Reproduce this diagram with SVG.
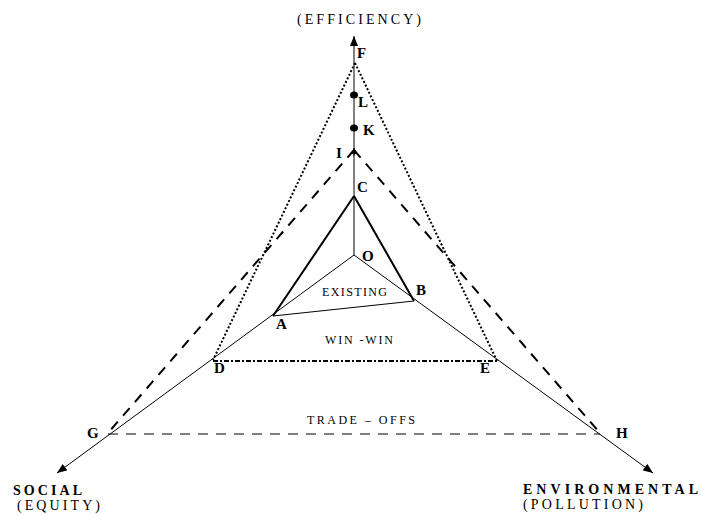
<svg xmlns="http://www.w3.org/2000/svg" width="701" height="515" viewBox="0 0 701 515">
<style>
text{font-family:"Liberation Serif","Times New Roman",serif;fill:#000}
.lbl{font-size:15px;font-weight:bold}
.ax{font-size:14px}
.axb{font-size:14px;font-weight:bold}
.reg{font-size:12px}
.axis{stroke:#000;stroke-width:1;fill:none}
.thick{stroke:#000;stroke-width:2;fill:none}
.dash{stroke:#000;stroke-width:2;fill:none;stroke-dasharray:10 8}
.dashthin{stroke:#000;stroke-width:1;fill:none;stroke-dasharray:10 8}
.dot{stroke:#000;stroke-width:2;fill:none;stroke-dasharray:2 2}
.dashdot{stroke:#000;stroke-width:2;fill:none;stroke-dasharray:5 2 2 2}
</style>
<defs>
<marker id="arr" viewBox="0 0 10 8" refX="10" refY="4" markerWidth="10" markerHeight="8" markerUnits="userSpaceOnUse" orient="auto">
<path d="M0,0 L10,4 L0,8 Z" fill="#000"/>
</marker>
<marker id="arrs" viewBox="0 0 6 6" refX="6" refY="3" markerWidth="6" markerHeight="6" markerUnits="userSpaceOnUse" orient="auto">
<path d="M0,0 L6,3 L0,6 Z" fill="#000"/>
</marker>
</defs>
<g id="connectors">
<line class="axis" x1="354" y1="255" x2="354" y2="36" marker-end="url(#arr)"/>
<line class="axis" x1="354" y1="255" x2="57" y2="473" marker-end="url(#arr)"/>
<line class="axis" x1="354" y1="255" x2="653" y2="473" marker-end="url(#arr)"/>
<line class="axis" x1="354" y1="156" x2="354" y2="148" marker-end="url(#arrs)"/>
<line class="thick" x1="354" y1="196" x2="273" y2="316"/>
<line class="thick" x1="354" y1="196" x2="414" y2="301"/>
<line class="axis" x1="273" y1="316" x2="414" y2="301" stroke-width="1.5"/>
<line class="dot" x1="355" y1="63" x2="213" y2="360"/>
<line class="dot" x1="355" y1="63" x2="497" y2="361"/>
<line class="dashdot" x1="213" y1="361" x2="497" y2="361"/>
<line class="dash" x1="354" y1="150" x2="108" y2="433"/>
<line class="dash" x1="354" y1="150" x2="600" y2="433"/>
<line class="dashthin" x1="108" y1="434" x2="600" y2="434"/>
</g>
<g id="axis-efficiency"><text class="ax" x="297" y="24" textLength="124" lengthAdjust="spacing">(EFFICIENCY)</text></g>
<g id="axis-social">
<text class="axb" x="13" y="495" textLength="69" lengthAdjust="spacing">SOCIAL</text>
<text class="ax" x="17" y="510" textLength="83" lengthAdjust="spacing">(EQUITY)</text>
</g>
<g id="axis-environmental">
<text class="axb" x="523" y="494" textLength="175" lengthAdjust="spacing">ENVIRONMENTAL</text>
<text class="ax" x="523" y="509" textLength="120" lengthAdjust="spacing">(POLLUTION)</text>
</g>
<g id="node-F"><text class="lbl" x="357" y="58">F</text></g>
<g id="node-L"><ellipse cx="354" cy="95" rx="4" ry="3.5" fill="#000"/><text class="lbl" x="358" y="107">L</text></g>
<g id="node-K"><ellipse cx="354" cy="128" rx="4" ry="3.5" fill="#000"/><text class="lbl" x="363" y="135">K</text></g>
<g id="node-I"><text class="lbl" x="336" y="158">I</text></g>
<g id="node-C"><text class="lbl" x="357" y="192">C</text></g>
<g id="node-O"><text class="lbl" x="362" y="261">O</text></g>
<g id="node-A"><text class="lbl" x="276" y="329">A</text></g>
<g id="node-B"><text class="lbl" x="416" y="295">B</text></g>
<g id="node-D"><text class="lbl" x="214" y="373">D</text></g>
<g id="node-E"><text class="lbl" x="480" y="373">E</text></g>
<g id="node-G"><text class="lbl" x="87" y="438">G</text></g>
<g id="node-H"><text class="lbl" x="616" y="438">H</text></g>
<g id="region-existing"><text class="reg" x="322" y="296" textLength="65" lengthAdjust="spacing">EXISTING</text></g>
<g id="region-winwin"><text class="reg" x="325" y="344" textLength="68" lengthAdjust="spacing">WIN -WIN</text></g>
<g id="region-tradeoffs"><text class="reg" x="307" y="424" textLength="108" lengthAdjust="spacing">TRADE – OFFS</text></g>
</svg>
